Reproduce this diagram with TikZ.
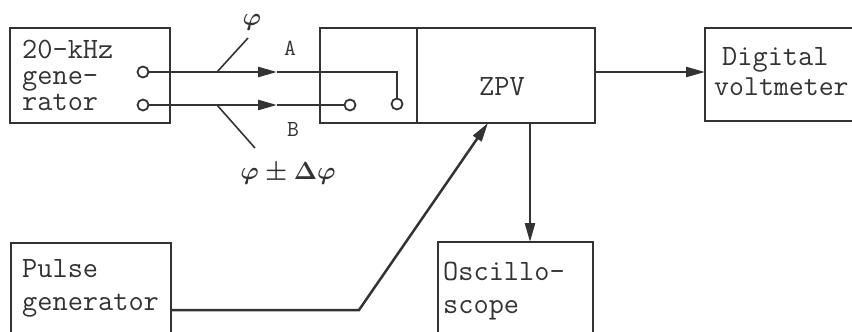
\documentclass[tikz,border=0pt]{standalone}
\usepackage{amsmath}
\usepackage{fontspec}
\usetikzlibrary{arrows.meta}
\definecolor{ink}{HTML}{333333}
\tikzset{
  blk/.style={draw=ink, line width=2.4pt, inner sep=0pt, outer sep=0pt},
  txt/.style={text=ink, inner sep=0pt, font=\ttfamily\fontsize{29.5}{32}\selectfont},
  lbl/.style={text=ink, inner sep=0pt, font=\ttfamily\fontsize{23}{26}\selectfont},
  term/.style={circle, draw=ink, line width=1.8pt, fill=white, minimum size=11pt, inner sep=0pt},
  wire/.style={draw=ink, line width=2.5pt},
  thin/.style={draw=ink, line width=1.6pt},
  arr/.style={-{Triangle[length=19pt,width=10pt]}}
}
\begin{document}
\begin{tikzpicture}[x=1pt,y=-1pt]
\useasboundingbox (0,0) rectangle (852,332);
\clip (0,0) rectangle (852,332);
% boxes
\node[blk, minimum width=160pt, minimum height=95pt] (gen) at (90,75.5) {};
\node[blk, minimum width=97pt, minimum height=95pt] (sw) at (368.5,75.5) {};
\node[blk, minimum width=178pt, minimum height=95pt] (zpv) at (506,75.5) {};
\node[blk, minimum width=165pt, minimum height=93pt] (dvm) at (787.5,74.5) {};
\node[blk, minimum width=160pt, minimum height=102pt] (pulse) at (91,294) {};
\node[blk, minimum width=155pt, minimum height=103pt] (osc) at (515.5,293.5) {};
% texts
\node[txt, anchor=base west] (gen1) at (22,58) {20-kHz};
\node[txt, anchor=base west] (gen2) at (22,84) {gene-};
\node[txt, anchor=base west] (gen3) at (22,110) {rator};
\node[txt, anchor=base] (zpvt) at (502,95) {ZPV};
\node[txt, anchor=base west] (dvm1) at (722,65) {Digital};
\node[txt, anchor=base west, font=\ttfamily\fontsize{29}{32}\selectfont] (dvm2) at (714,95) {voltmeter};
\node[txt, anchor=base west] (pul1) at (22,277) {Pulse};
\node[txt, anchor=base west] (pul2) at (22,310) {generator};
\node[txt, anchor=base west] (osc1) at (443,280) {Oscillo-};
\node[txt, anchor=base west] (osc2) at (443,313) {scope};
% terminals
\node[term] (ta) at (143,72) {};
\node[term] (tb) at (143,105) {};
\node[term] (s1) at (350,105) {};
\node[term] (s2) at (397,104) {};
% wires A and B
\coordinate (ma) at (277,72);
\coordinate (ka) at (397,72);
\coordinate (mb) at (277,105);
\draw[wire, arr] (ta) -- (ma);
\draw[wire] (ma) -- (ka) -- (s2);
\draw[wire, arr] (tb) -- (mb);
\draw[wire] (mb) -- (s1);
% tick marks and labels
\coordinate (pa) at (217,72);
\coordinate (pa2) at (248,38);
\coordinate (pb) at (217,105);
\coordinate (pb2) at (255,148);
\draw[thin] (pa) -- (pa2);
\draw[thin] (pb) -- (pb2);
\node[text=ink, inner sep=0pt, font=\fontsize{24}{26}\selectfont] (phi) at (252,22) {$\boldsymbol{\varphi}$};
\node[text=ink, inner sep=0pt, font=\fontsize{24}{26}\selectfont] (phid) at (288,173) {$\boldsymbol{\varphi\pm\Delta\varphi}$};
\node[lbl] (la) at (290,48) {A};
\node[lbl] (lb) at (293,129) {B};
% ZPV -> voltmeter
\draw[wire, arr] (zpv.east |- ta) -- (dvm.west |- ta);
% pulse -> ZPV
\coordinate (pk) at (359,310);
\coordinate (zb) at (488,123);
\draw[wire, arr] (pulse.east |- pk) -- (pk) -- (zb);
% ZPV -> oscilloscope
\coordinate (zo) at (530,123);
\draw[wire, arr] (zo) -- (zo |- osc.north);
\end{tikzpicture}
\end{document}
